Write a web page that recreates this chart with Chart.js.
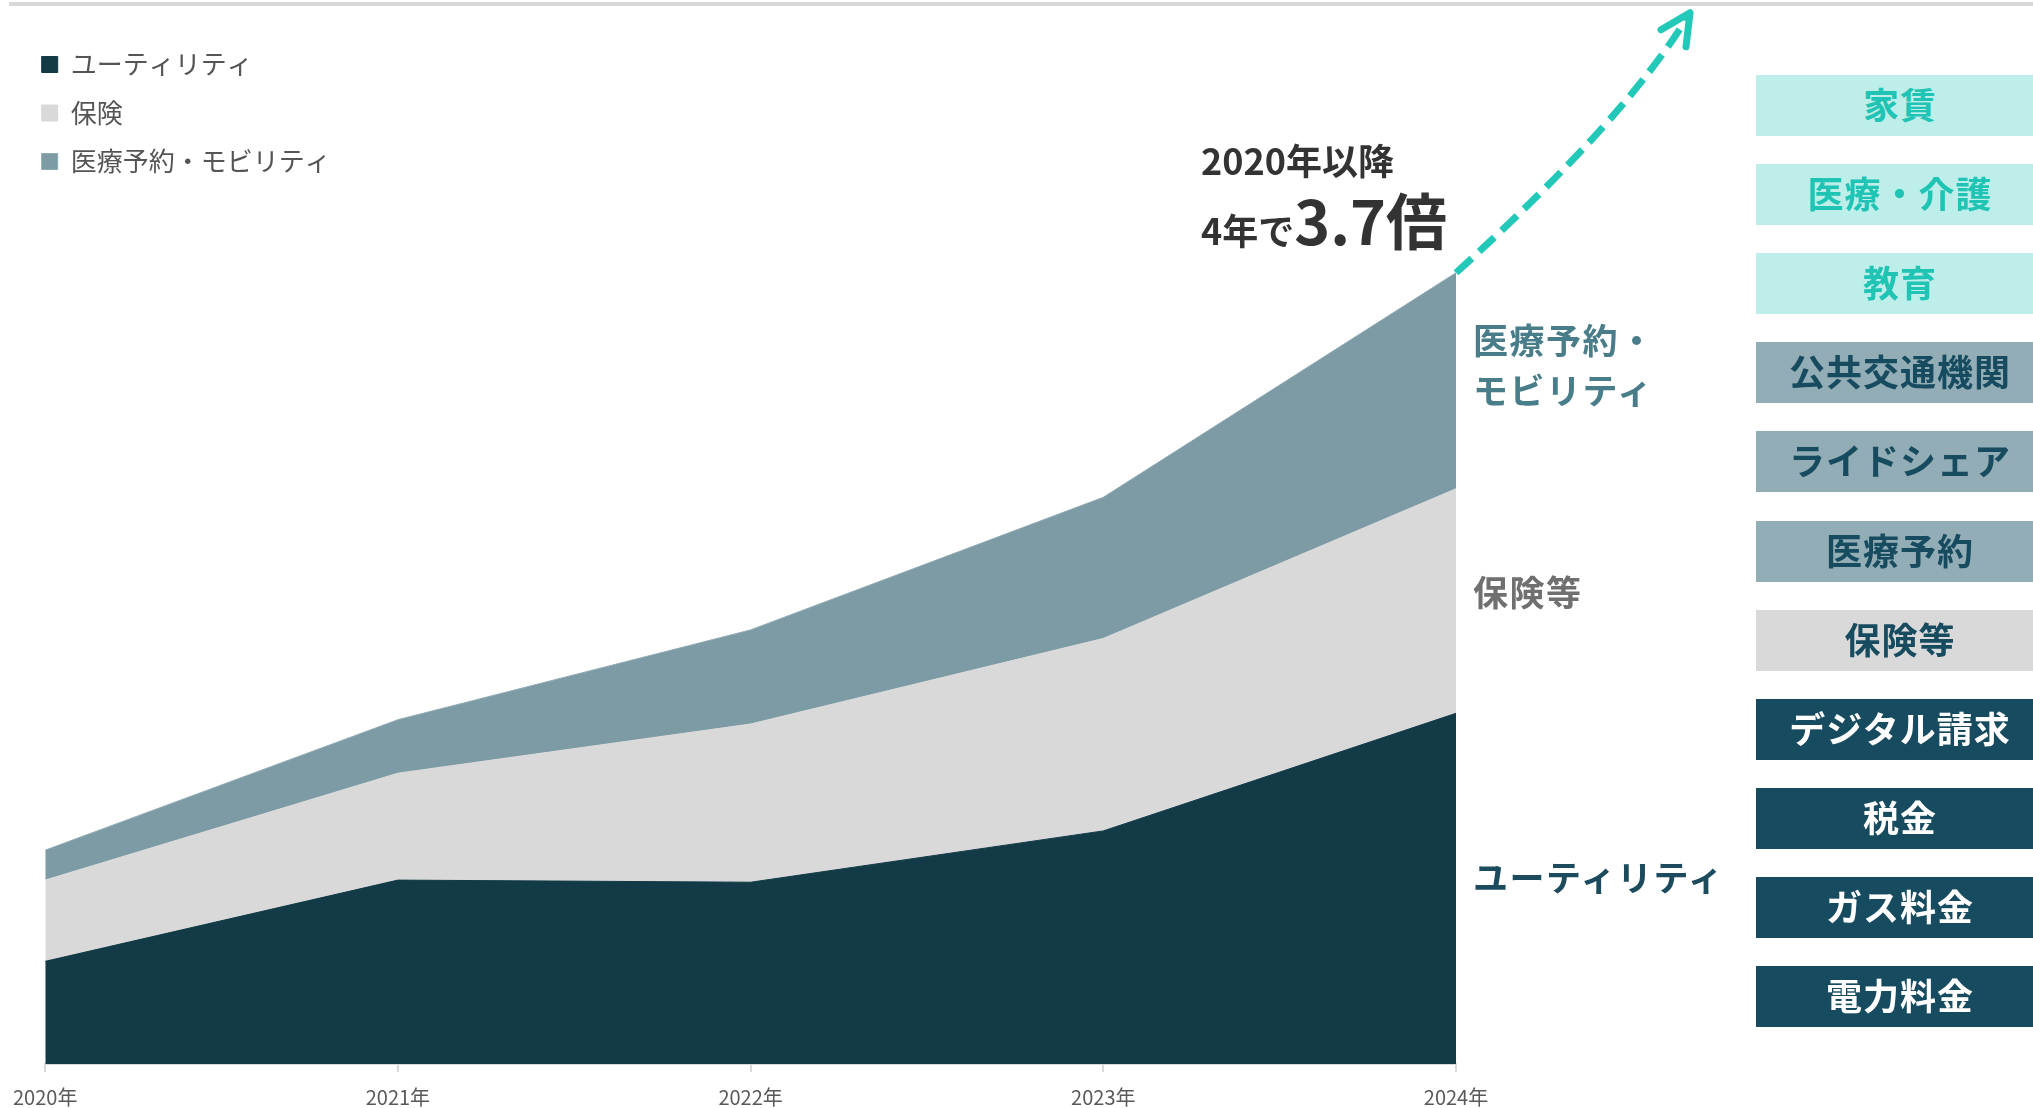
<!DOCTYPE html>
<html lang="ja">
<head>
<meta charset="utf-8">
<script src="https://cdn.jsdelivr.net/npm/chart.js@4.4.1/dist/chart.umd.min.js"></script>
<style>
  html, body { margin: 0; padding: 0; background: #fff; }
  body { width: 2033px; height: 1108px; overflow: hidden; position: relative;
         font-family: "Noto Sans CJK JP", "Noto Sans", sans-serif; }
  #topline { position: absolute; left: 9px; right: 0; top: 2px; height: 4px; background: #d9d9d9; }
  #wrap { position: absolute; left: 0; top: 0; width: 2033px; height: 1108px; }
  .note { position: absolute; font-weight: 700; color: #333; white-space: nowrap; }
  .serieslabel { position: absolute; left: 1473px; font-weight: 700; font-size: 35px;
                 letter-spacing: 1.5px; line-height: 50px; white-space: nowrap; }
  .svc { position: absolute; left: 1756px; width: 288px; height: 61px; line-height: 57px;
         text-align: center; font-weight: 700; font-size: 36px; letter-spacing: 1px; white-space: nowrap; }
  .svc.new { background: #bdeee9; color: #1fc4b4; }
  .svc.mob { background: #93adb6; color: #174b5f; }
  .svc.ins { background: #d9d9d9; color: #174b5f; }
  .svc.util { background: #174b5f; color: #fff; }
</style>
</head>
<body>
<div id="topline"></div>
<div id="wrap"><canvas id="growth"></canvas></div>

<div class="note" style="left:1201px; top:139px; font-size:36px; line-height:40px;">2020年以降</div>
<div class="note" style="left:1201px; top:179px; font-size:36px; line-height:80px;">4年で<span style="font-size:61px; line-height:80px;">3.7倍</span></div>

<div class="serieslabel" style="top:314px; color:#4a7d8a;">医療予約・<br>モビリティ</div>
<div class="serieslabel" style="top:566px; color:#707070;">保険等</div>
<div class="serieslabel" style="top:851px; color:#1b4b5d;">ユーティリティ</div>

<div id="services"></div>

<script>
// 年ごとの取扱高（2020年合計=100 の指数、図から読み取り）
var years = ['2020年', '2021年', '2022年', '2023年', '2024年'];
var utility = [48, 86, 85, 109, 164];
var insurance = [38, 50, 74, 90, 105];
var mobility = [14, 25, 44, 66, 101];

// 右側のサービス一覧
var services = ['家賃', '医療・介護', '教育', '公共交通機関', 'ライドシェア', '医療予約',
                '保険等', 'デジタル請求', '税金', 'ガス料金', '電力料金'];
var serviceGroups = ['new', 'new', 'new', 'mob', 'mob', 'mob', 'ins', 'util', 'util', 'util', 'util'];

var box = document.getElementById('services');
services.forEach(function (name, i) {
    var d = document.createElement('div');
    d.className = 'svc ' + serviceGroups[i];
    d.style.top = (75 + i * 89.1) + 'px';
    d.textContent = name;
    box.appendChild(d);
});

// 凡例を左上のグラフ領域に重ねて描く（幅だけ広げる）
var legendOverlay = {
    id: 'legendOverlay',
    afterLayout: function (chart) {
        var lg = chart.legend;
        lg.right = lg.left + 600;
        lg.width = 600;
    }
};

// 最終点から伸びる点線の矢印
var growthArrow = {
    id: 'growthArrow',
    afterDraw: function (chart) {
        var pts = chart.getDatasetMeta(2).data;
        var p = pts[pts.length - 1];
        var ctx = chart.ctx;
        var sx = p.x, sy = p.y;
        var ex = sx + 234, ey = sy - 260;
        ctx.save();
        ctx.strokeStyle = '#22c8b8';
        ctx.lineWidth = 7;
        ctx.setLineDash([21, 10]);
        ctx.beginPath();
        ctx.moveTo(sx, sy);
        ctx.quadraticCurveTo(sx + 172, sy - 156, ex, ey);
        ctx.stroke();
        ctx.setLineDash([]);
        ctx.lineCap = 'round';
        ctx.lineJoin = 'round';
        ctx.beginPath();
        ctx.moveTo(ex - 29, ey + 17);
        ctx.lineTo(ex, ey);
        ctx.lineTo(ex - 4, ey + 34);
        ctx.stroke();
        ctx.restore();
    }
};

Chart.defaults.font.family = '"Noto Sans CJK JP", "Noto Sans", sans-serif';

var ctx = document.getElementById('growth').getContext('2d');
var growth = new Chart(ctx, {
    type: 'line',
    data: {
        labels: years,
        datasets: [{
            label: 'ユーティリティ',
            data: utility,
            backgroundColor: '#123a47',
            borderColor: '#123a47',
            borderWidth: 1,
            fill: 'origin'
        }, {
            label: '保険',
            data: insurance,
            backgroundColor: '#d9d9d9',
            borderColor: '#d9d9d9',
            borderWidth: 1,
            fill: '-1'
        }, {
            label: '医療予約・モビリティ',
            data: mobility,
            backgroundColor: '#7c9ba5',
            borderColor: '#8fa9b2',
            borderWidth: 1,
            fill: '-1'
        }]
    },
    options: {
        responsive: true,
        maintainAspectRatio: false,
        animation: false,
        elements: { point: { radius: 0 }, line: { tension: 0 } },
        layout: { padding: { left: 18, right: 577, top: 29, bottom: 0 } },
        plugins: {
            legend: {
                position: 'left',
                align: 'start',
                maxWidth: 26,
                labels: {
                    boxWidth: 16,
                    boxHeight: 16,
                    padding: 22.5,
                    color: '#555',
                    font: { size: 26 }
                }
            },
            tooltip: { enabled: false }
        },
        scales: {
            x: {
                grid: { drawOnChartArea: false, tickLength: 8, color: '#d9d9d9', lineWidth: 2 },
                border: { color: '#d9d9d9', width: 2 },
                ticks: { color: '#595959', font: { size: 20 }, padding: 13, maxRotation: 0 },
                afterFit: function (s) { s.height = 44; }
            },
            y: {
                display: false,
                stacked: true,
                min: 0,
                max: 484
            }
        }
    },
    plugins: [legendOverlay, growthArrow]
});
</script>
</body>
</html>
